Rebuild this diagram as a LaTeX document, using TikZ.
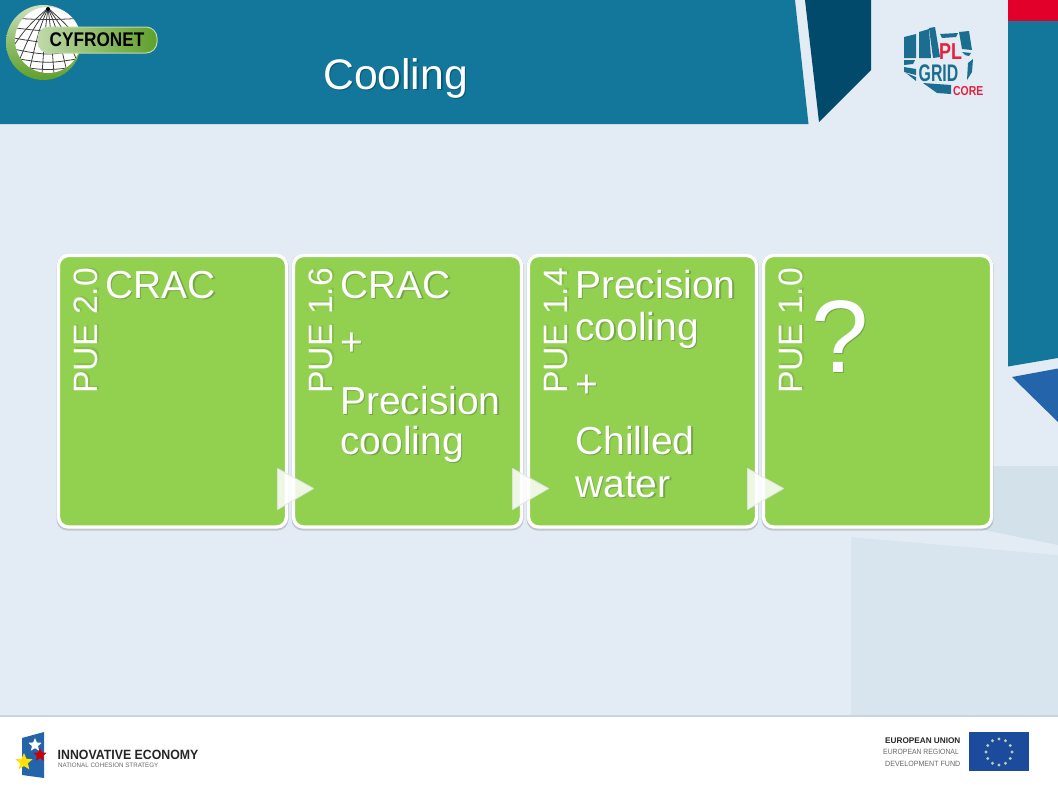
\documentclass[tikz,border=0pt]{standalone}
\usepackage{fontspec}
\setmainfont{Liberation Sans}
\usetikzlibrary{shapes.geometric,calc}
\definecolor{pagebg}{HTML}{E3ECF4}
\definecolor{teal}{HTML}{13769B}
\definecolor{deepteal}{HTML}{024A6C}
\definecolor{flagred}{HTML}{E2002A}
\definecolor{wedgeblue}{HTML}{2464AA}
\definecolor{panelA}{HTML}{D3E1EA}
\definecolor{panelB}{HTML}{D9E5EE}
\definecolor{cardgreen}{HTML}{92D050}
\definecolor{greenshadow}{HTML}{76A548}
\definecolor{pueshadow}{HTML}{86BC4B}
\definecolor{titleshadow}{HTML}{0E5873}
\definecolor{plteal}{HTML}{1B6E8F}
\definecolor{plred}{HTML}{E6213F}
\definecolor{eublue}{HTML}{1C4A9C}
\definecolor{eustar}{HTML}{B8D0B0}
\definecolor{logogreen}{HTML}{5FA02A}
\definecolor{footgrey}{HTML}{6A6A6A}
\definecolor{footline}{HTML}{C8D4DE}
\newcommand{\fs}[1]{\fontsize{#1}{#1}\selectfont}
\newcommand{\shadowed}[2]{\leavevmode\rlap{\raisebox{-1.6pt}{\hspace{1.6pt}\textcolor{#1}{#2}}}#2}
\tikzset{
  cardbox/.style={draw=white,line width=3.4pt,fill=cardgreen,rounded corners=10pt,minimum width=228pt,minimum height=271.5pt,inner sep=0pt,outer sep=0pt,anchor=north west},
  cardshade/.style={fill=black!50,opacity=.35,rounded corners=11pt,minimum width=232pt,minimum height=276pt,inner sep=0pt,outer sep=0pt,anchor=north west},
  bodytext/.style={text=white,inner sep=0pt,anchor=base west,font=\fs{39}},
  puetext/.style={text=white,inner sep=0pt,anchor=base west,rotate=90,font=\fs{33.8}},
  chevron/.style={fill=white,draw=black!10,line width=1pt,line join=round,opacity=.85},
  eustarmark/.style={fill=eustar,circle,inner sep=0pt,minimum size=3.2pt},
  footsmall/.style={inner sep=0pt,anchor=base west},
  globeline/.style={black!75,line width=.8pt},
  flagstar/.style={star,star points=5,star point ratio=2.2,inner sep=0pt},
}
\begin{document}
\begin{tikzpicture}[x=1pt,y=-1pt]
\useasboundingbox (0,0) rectangle (1058,793);
% page background
\fill[pagebg] (0,0) rectangle (1058,793);
\fill[panelA] (900,466) -- (1058,466) -- (1058,545) -- (900,513) -- cycle;
\fill[panelB] (851,537) -- (1058,555) -- (1058,716) -- (851,716) -- cycle;
% header
\fill[teal] (0,0) -- (795,0) -- (808.5,124) -- (0,124) -- cycle;
\fill[deepteal] (805,0) -- (871,0) -- (871,70) -- (819,122) -- cycle;
\fill[flagred] (1008,0) rectangle (1058,21);
\fill[teal] (1008,21) -- (1058,21) -- (1058,358) -- (1008,366.5) -- cycle;
\fill[wedgeblue] (1012,377) -- (1058,368.5) -- (1058,422) -- cycle;
% footer
\fill[white] (0,716) rectangle (1058,793);
\fill[footline] (0,715) rectangle (1058,716.5);
% Cyfronet logo
\shade[top color=white!70!logogreen,bottom color=logogreen,middle color=white!30!logogreen] (43.5,42.5) circle (37.5);
\begin{scope}
\fill[white] (48,40) circle (33);
\clip (48,40) circle (33);
\foreach \tx in {-70,-46,-26,-8,8,26,46,70}{\draw[globeline] (48,8) .. controls (48+\tx*.35,30) .. (48+\tx*.75,74);}
\foreach \ty/\b in {18/2,27/5,37/7,48/8,57/7,65/6}{\draw[globeline] (8,\ty) .. controls (48,\ty+\b) .. (88,\ty);}
\fill[black] (48,9) circle (2);
\end{scope}
\shade[left color=white!60!logogreen,right color=logogreen,rounded corners=11pt,draw=white!60!logogreen,line width=1pt] (38,27) rectangle (157,53);
\node[inner sep=0pt,font=\bfseries\fs{17.2},text=black] (cyfronet) at (97,40) {\scalebox{1}[1.15]{CYFRONET}};
% title
\node[text=white,inner sep=0pt,anchor=base west,font=\fs{42.7}] (title) at (323,89) {\shadowed{titleshadow}{Cooling}};
% PL-Grid logo
\fill[plteal] (904,37) -- (916,34) -- (916,58) -- (904,58) -- cycle;
\fill[plteal] (919,32) -- (929,29) -- (931,58) -- (919,58) -- cycle;
\fill[plteal] (929,28) -- (935,27) -- (940,57) -- (933,58) -- cycle;
\fill[plteal] (940,34) -- (958,33) -- (956,37) -- (942,38) -- cycle;
\fill[plteal] (959,32) -- (969,31) -- (972,50) -- (962,49) -- cycle;
\fill[plteal] (962,52) -- (971,53) -- (969,56) -- (965,55) -- cycle;
\fill[plteal] (968,63) -- (973,59) -- (972,72) -- (967,80) -- cycle;
\fill[plteal] (904,60) -- (915,60) -- (913,64) -- (904,65) -- cycle;
\fill[plteal] (904,67) -- (916,69) -- (916,75) -- (904,72) -- cycle;
\fill[plteal] (906,73) -- (916,77) -- (916,81) -- cycle;
\fill[plteal] (923,83) -- (951,85) -- (951,94) -- (937,93) -- cycle;
\node[inner sep=0pt,anchor=base west,text=plred,font=\bfseries\fs{23}] (pl) at (939,59.5) {\scalebox{.78}[1]{PL}};
\node[inner sep=0pt,anchor=base west,text=plteal,font=\bfseries\fs{24}] (grid) at (918.5,81.5) {\scalebox{.66}[1]{GRID}};
\node[inner sep=0pt,anchor=base west,text=plred,font=\bfseries\fs{13}] (core) at (953,95) {\scalebox{.8}[1]{CORE}};
% cards
\foreach \x in {56.5,291.5,526.5,761.5}{
  \node[cardshade] at (\x,254.5) {};
}
\node[cardbox] (card1) at (58.5,255.5) {};
\node[cardbox] (card2) at (293.5,255.5) {};
\node[cardbox] (card3) at (528.5,255.5) {};
\node[cardbox] (card4) at (763.5,255.5) {};
% chevrons between the cards
\foreach \x in {277.5,512.5,747.5}{
  \path[chevron] (\x,468.5) -- (\x+36,488.5) -- (\x,509.5) -- cycle;
}
% rotated labels
\node[puetext] (pue1) at (97.5,394) {\shadowed{pueshadow}{PUE 2.0}};
\node[puetext] (pue2) at (332.5,394) {\shadowed{pueshadow}{PUE 1.6}};
\node[puetext] (pue3) at (567.5,394) {\shadowed{pueshadow}{PUE 1.4}};
\node[puetext] (pue4) at (802.5,394) {\shadowed{pueshadow}{PUE 1.0}};
% card texts
\node[bodytext] (t1) at (105,298) {\shadowed{greenshadow}{CRAC}};
\node[bodytext] (t2a) at (340,298) {\shadowed{greenshadow}{CRAC}};
\node[bodytext] (t2b) at (340,355) {\shadowed{greenshadow}{+}};
\node[bodytext] (t2c) at (340,414) {\shadowed{greenshadow}{Precision}};
\node[bodytext] (t2d) at (340,454) {\shadowed{greenshadow}{cooling}};
\node[bodytext] (t3a) at (575,298) {\shadowed{greenshadow}{Precision}};
\node[bodytext] (t3b) at (575,340) {\shadowed{greenshadow}{cooling}};
\node[bodytext] (t3c) at (575,397) {\shadowed{greenshadow}{+}};
\node[bodytext] (t3d) at (575,454) {\shadowed{greenshadow}{Chilled}};
\node[bodytext] (t3e) at (575,497) {\shadowed{greenshadow}{water}};
\node[text=white,inner sep=0pt,anchor=base west,font=\fs{103}] (t4) at (811,372) {\shadowed{greenshadow}{?}};
% Innovative Economy logo
\fill[wedgeblue] (22,738) -- (44,732) -- (44,778) -- (22,775) -- cycle;
\node[flagstar,fill=white,minimum size=14pt] (starw) at (35,745) {};
\node[flagstar,fill=red!80!black,minimum size=14pt] (starr) at (40,755) {};
\node[flagstar,fill=yellow!85!orange,minimum size=18pt] (stary) at (24,762) {};
\node[footsmall,text=black!85,font=\bfseries\fs{13.4}] (inno) at (57.5,759.5) {\scalebox{.92}[1]{INNOVATIVE ECONOMY}};
\node[footsmall,text=footgrey,font=\fs{6.4}] (ncs) at (58,767.5) {\scalebox{.97}[1]{NATIONAL COHESION STRATEGY}};
% European Union block
\node[footsmall,text=black!85,font=\bfseries\fs{8.2}] (eu1) at (885,743.5) {EUROPEAN UNION};
\node[footsmall,text=footgrey,font=\fs{7.6}] (eu2) at (883,754.5) {\scalebox{.9}[1]{EUROPEAN REGIONAL}};
\node[footsmall,text=footgrey,font=\fs{7.6}] (eu3) at (885,766) {\scalebox{.93}[1]{DEVELOPMENT FUND}};
\fill[eublue] (969,732) rectangle (1028.5,771);
\foreach \a in {0,30,...,330}{
  \node[eustarmark] at ({999+13*cos(\a)},{752+13*sin(\a)}) {};
}
\end{tikzpicture}
\end{document}
